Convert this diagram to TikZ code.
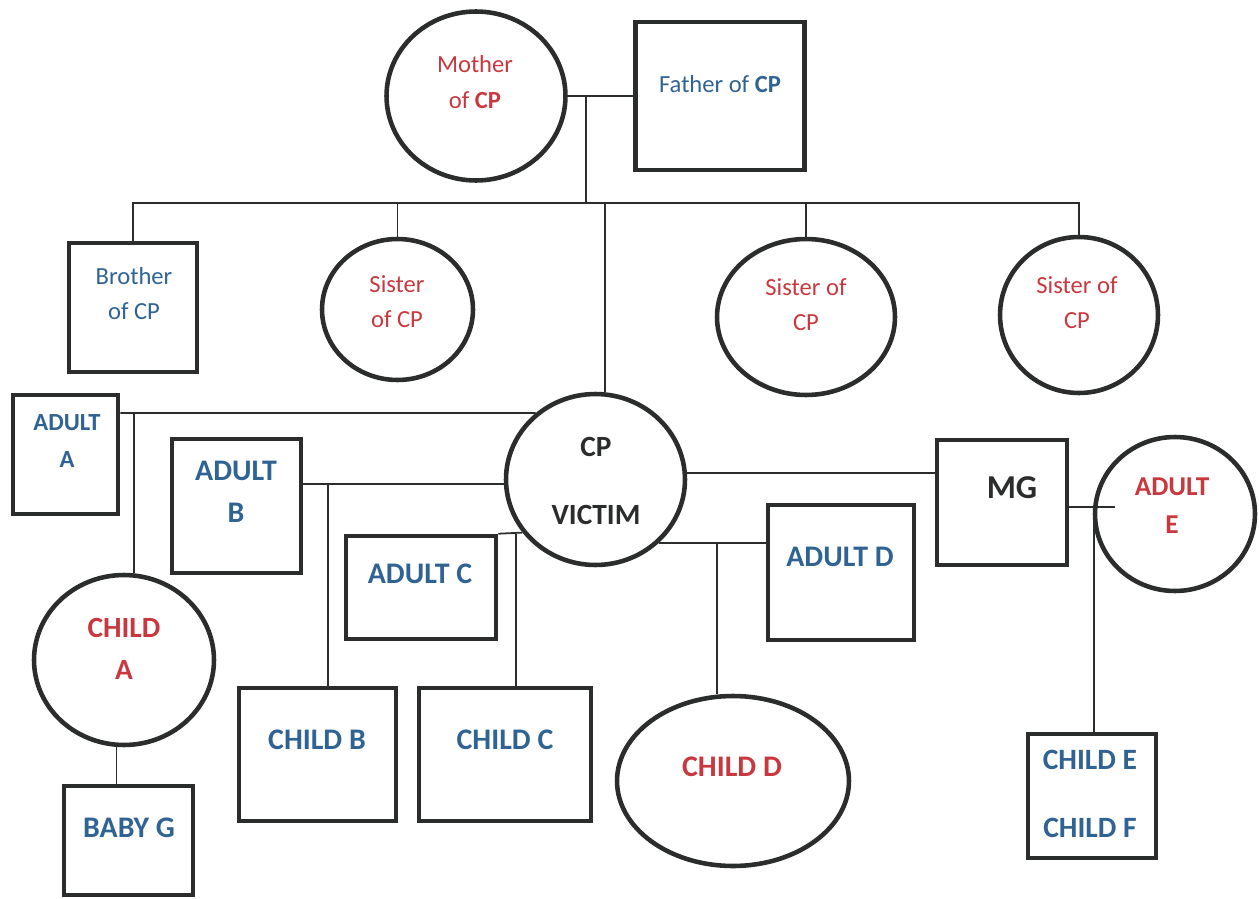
\documentclass[tikz,border=0pt]{standalone}
\usepackage{fontspec}
\setmainfont{Carlito}
\usetikzlibrary{shapes.geometric}
\definecolor{kinred}{HTML}{C9383F}
\definecolor{kinblue}{HTML}{2F6394}
\definecolor{kinline}{HTML}{2B2D2C}

\begin{document}
\begin{tikzpicture}[x=0.02cm,y=-0.02cm,
    male/.style={draw=kinline,line width=2.6pt,rectangle,inner sep=0pt},
    female/.style={draw=kinline,line width=2.6pt,ellipse,inner sep=0pt},
    kin/.style={draw=kinline,line width=1pt},
    rtext/.style={kinred,align=center,font=\fontsize{14}{20}\selectfont},
    btext/.style={kinblue,align=center,font=\fontsize{14}{20}\selectfont},
    rname/.style={kinred,align=center,font=\bfseries\fontsize{17}{24}\selectfont},
    bname/.style={kinblue,align=center,font=\bfseries\fontsize{17}{24}\selectfont},
    kname/.style={kinline,align=center,font=\bfseries\fontsize{17}{24}\selectfont}]
    \useasboundingbox (0,0) rectangle (1259,899);
    % Parents ==============================================
    \node[female,minimum width=3.58cm,minimum height=3.38cm] (mother)  at (476,96)    {};
    \node[male,minimum width=3.38cm,minimum height=2.96cm]   (father)  at (720,96)    {};
    \node[rtext] (motherT) at (475,82) {Mother\\of \textbf{CP}};
    \node[btext] (fatherT) at (720,84) {Father of \textbf{CP}};
    % Siblings =============================================
    \node[male,minimum width=2.56cm,minimum height=2.58cm]   (brother) at (133,307.5) {};
    \node[female,minimum width=3.02cm,minimum height=2.82cm] (sister1) at (397.5,309.5) {};
    \node[female,minimum width=3.56cm,minimum height=3.12cm] (sister2) at (806,317)   {};
    \node[female,minimum width=3.16cm,minimum height=3.12cm] (sister3) at (1079,315)  {};
    \node[btext] (brotherT) at (134,293.5) {Brother\\of CP};
    \node[rtext] (sister1T) at (397,302)   {Sister\\of CP};
    \node[rtext] (sister2T) at (806,305)   {Sister of\\CP};
    \node[rtext] (sister3T) at (1077,303)  {Sister of\\CP};
    % CP and partners ======================================
    \node[female,minimum width=3.58cm,minimum height=3.42cm] (cp)      at (595.5,479.5) {};
    \node[male,minimum width=2.1cm,minimum height=2.38cm]    (adultA)  at (65.5,454.5) {};
    \node[male,minimum width=2.58cm,minimum height=2.68cm]   (adultB)  at (236.5,506) {};
    \node[male,minimum width=3.0cm,minimum height=2.06cm]    (adultC)  at (421,587.5) {};
    \node[male,minimum width=2.92cm,minimum height=2.7cm]    (adultD)  at (841,572.5) {};
    \node[male,minimum width=2.6cm,minimum height=2.5cm]     (mg)      at (1002,502.5) {};
    \node[female,minimum width=3.2cm,minimum height=3.08cm]  (adultE)  at (1175,514)  {};
    \node[kname,font=\bfseries\fontsize{16.7}{38.6}\selectfont] (cpT) at (596,481) {CP\\VICTIM};
    \node[bname,font=\bfseries\fontsize{14}{21.5}\selectfont]   (adultAT) at (67,441) {ADULT\\A};
    \node[bname] (adultBT) at (236,491.5) {ADULT\\B};
    \node[bname] (adultCT) at (420,574)   {ADULT C};
    \node[bname] (adultDT) at (840,557)   {ADULT D};
    \node[kname,font=\bfseries\fontsize{19}{24}\selectfont]     (mgT)     at (1012,488) {MG};
    \node[rname,font=\bfseries\fontsize{15.5}{22}\selectfont]   (adultET) at (1172,505.5) {ADULT\\E};
    % Children =============================================
    \node[female,minimum width=3.6cm,minimum height=3.4cm]   (childA)  at (124,660)   {};
    \node[male,minimum width=2.58cm,minimum height=2.18cm]   (babyG)   at (128.5,840.5) {};
    \node[male,minimum width=3.14cm,minimum height=2.66cm]   (childB)  at (317.5,754.5) {};
    \node[male,minimum width=3.44cm,minimum height=2.66cm]   (childC)  at (505,754.5) {};
    \node[female,minimum width=4.64cm,minimum height=3.4cm]  (childD)  at (733,781)   {};
    \node[male,minimum width=2.56cm,minimum height=2.48cm]   (childEF) at (1092,796)  {};
    \node[rname,font=\bfseries\fontsize{16.7}{23.8}\selectfont] (childAT) at (124,649) {CHILD\\A};
    \node[bname] (babyGT)  at (129,828) {BABY G};
    \node[bname] (childBT) at (317,740) {CHILD B};
    \node[bname] (childCT) at (505,740) {CHILD C};
    \node[rname] (childDT) at (732,767) {CHILD D};
    \node[bname,font=\bfseries\fontsize{16.8}{38.6}\selectfont] (childEFT) at (1090,794) {CHILD E\\CHILD F};
    % Lines: parents and siblings
    \draw[kin] (mother) -- (father);
    \coordinate (mf)  at (586,96);
    \coordinate (sib) at (586,203);
    \draw[kin] (mf) -- (sib);
    \draw[kin] (brother.north) |- (sib) -| (sister3.north);
    \draw[kin] (sister1.north) -- (sister1.north |- sib);
    \draw[kin] (sister2.north) -- (sister2.north |- sib);
    \coordinate (cpup) at (605,203);
    \draw[kin] (cpup) -- (cpup |- cp.north);
    % Lines: CP's partners and their children
    \coordinate (rowA) at (134,413);
    \draw[kin] (adultA.east |- rowA) -- (cp.132);
    \draw[kin] (rowA) -- (rowA |- childA.north);
    \draw[kin] (childA.265) -- (childA.265 |- babyG.north);
    \coordinate (rowB) at (328,484);
    \draw[kin] (adultB.east |- rowB) -- (cp.west |- rowB);
    \draw[kin] (rowB) -- (rowB |- childB.north);
    \coordinate (rowC) at (516,534);
    \draw[kin] (adultC.north east) -- (cp.216);
    \draw[kin] (rowC) -- (rowC |- childC.north);
    \coordinate (rowD) at (717,544);
    \draw[kin] (cp.315) -- (cp.315 -| adultD.west);
    \draw[kin] (rowD) -- (rowD |- childD.north);
    \coordinate (rowM) at (0,473);
    \draw[kin] (cp.east |- rowM) -- (mg.west |- rowM);
    % MG and adult E
    \coordinate (rowE) at (1094,507);
    \draw[kin] (mg.east |- rowE) -- +(46,0);
    \draw[kin] (rowE) -- (rowE |- childEF.north);
\end{tikzpicture}
\end{document}
